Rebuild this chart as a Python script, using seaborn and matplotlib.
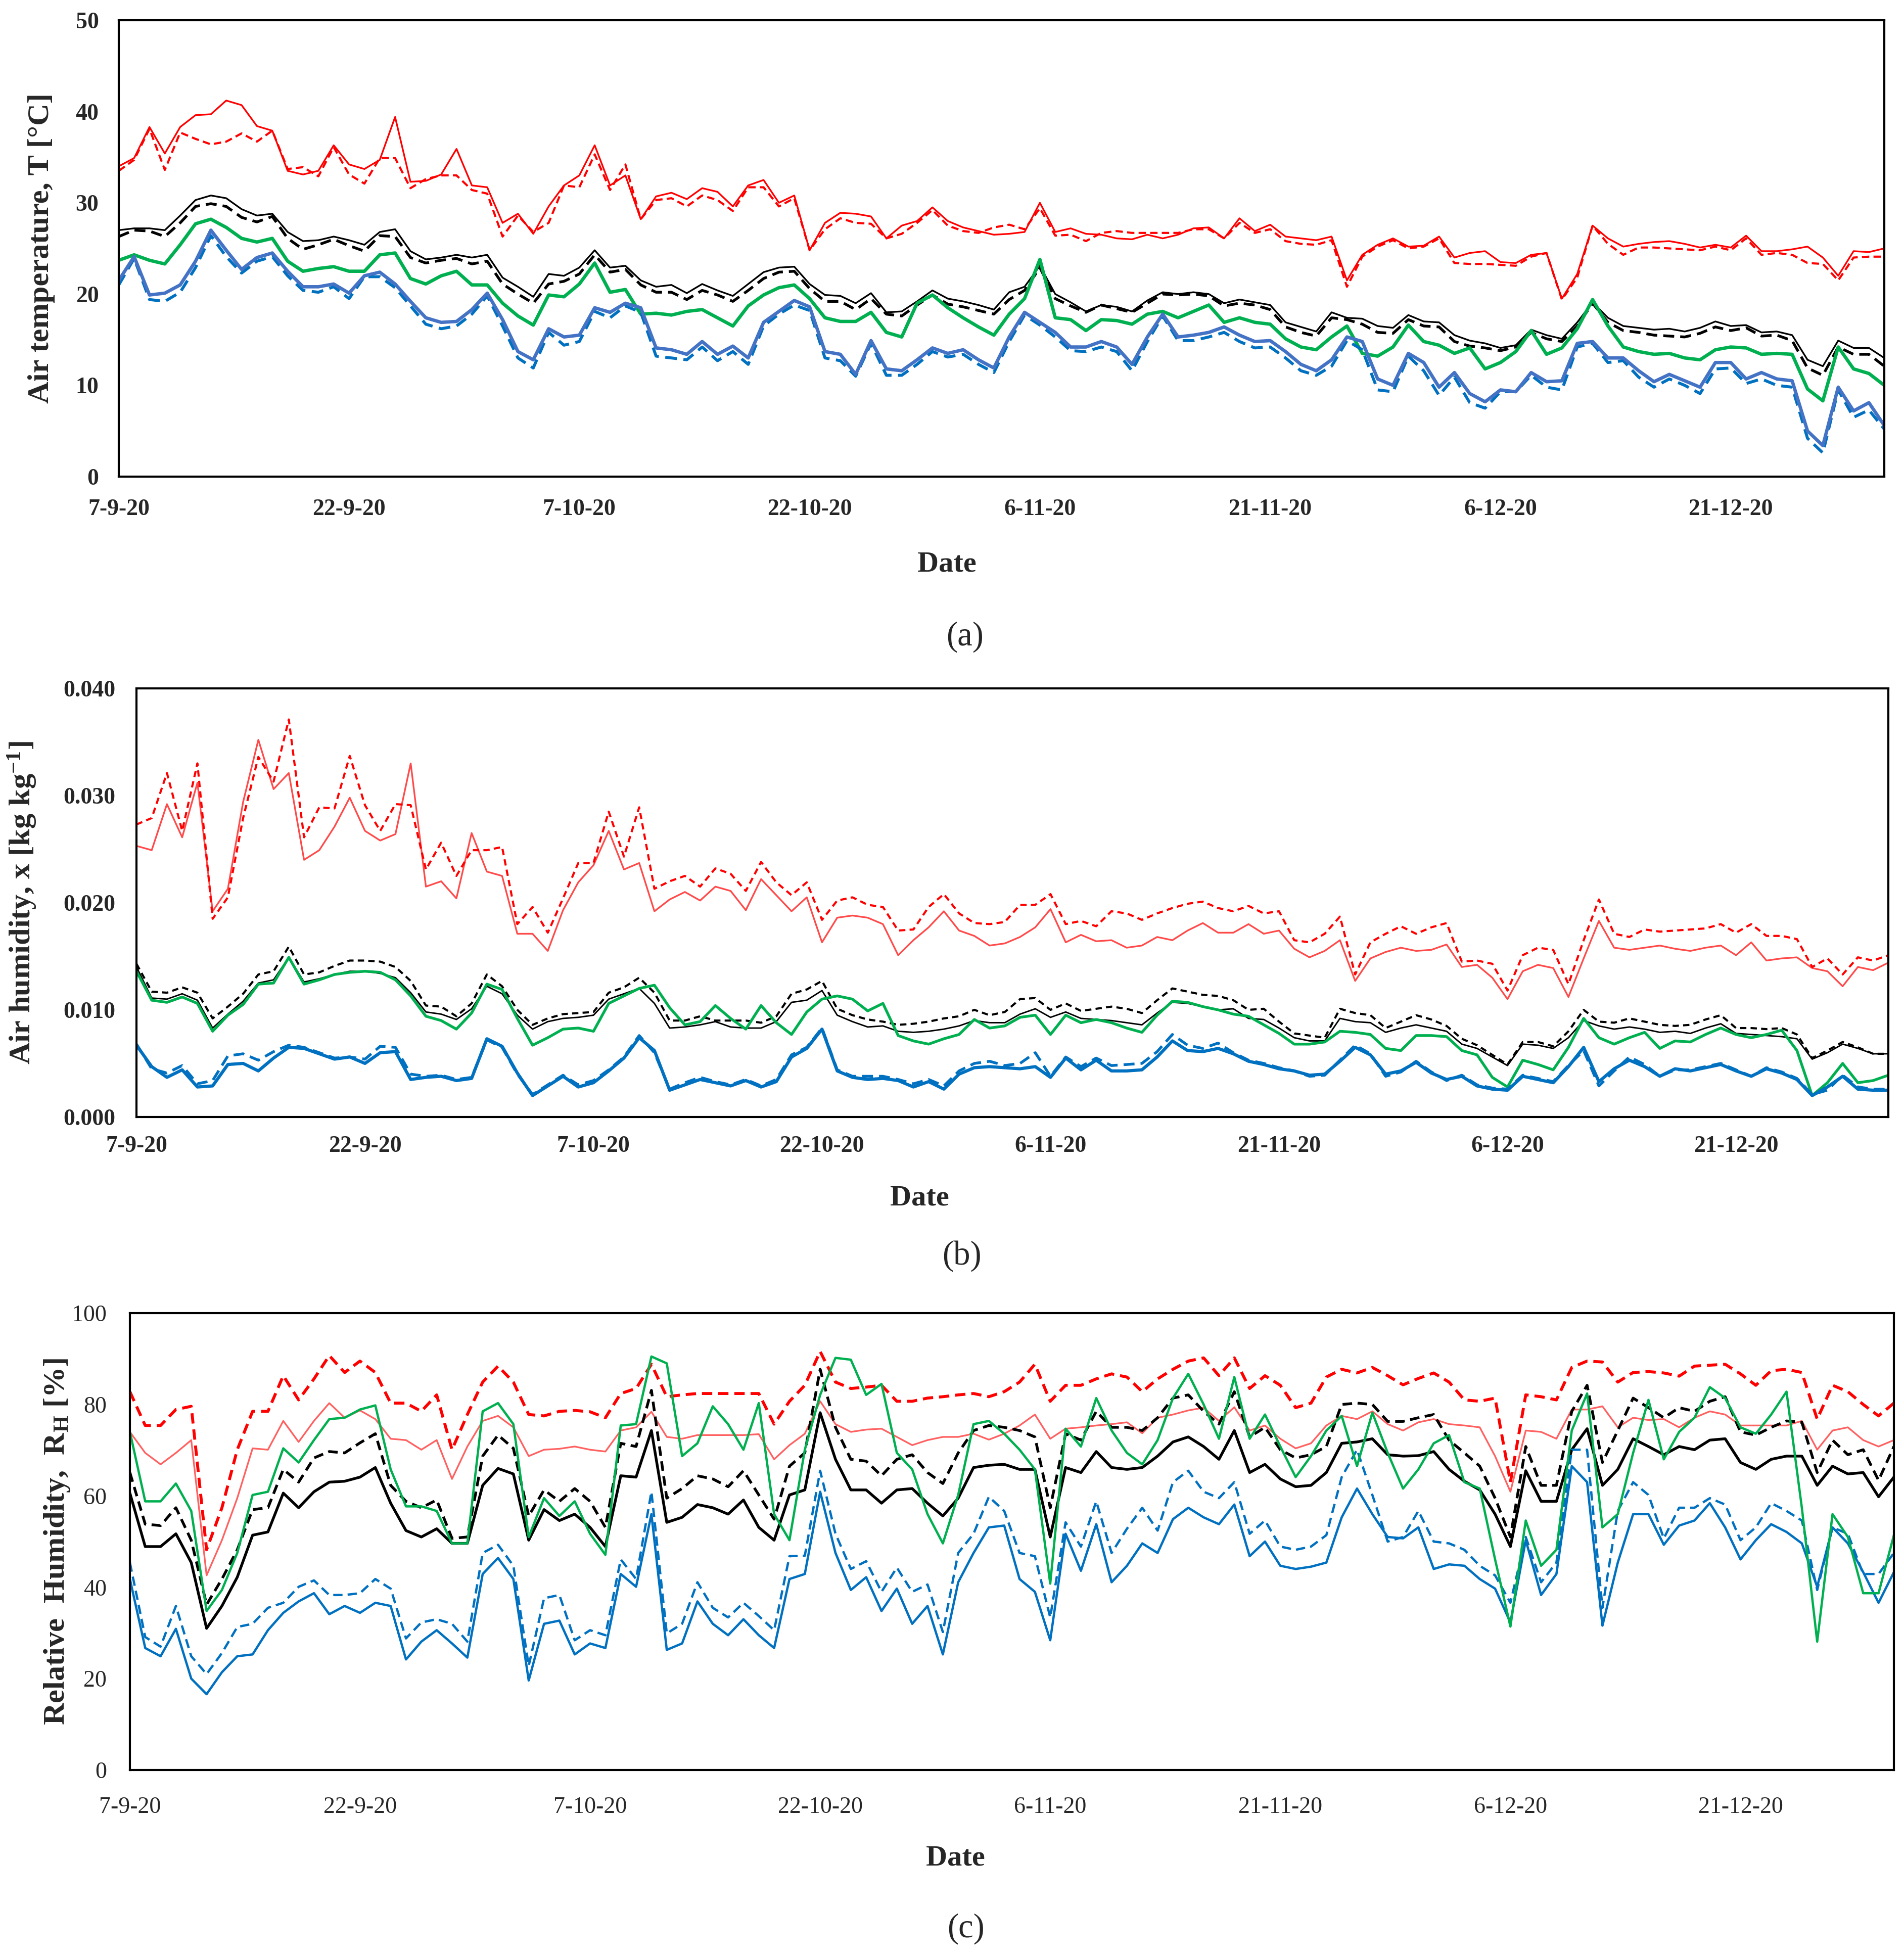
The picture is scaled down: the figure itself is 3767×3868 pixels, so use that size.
"""
Three stacked time series (Sep-Dec 2020): air temperature, air humidity
ratio and relative humidity, solid/dashed pairs per location.
Writes out.png
"""

import numpy as np
import pandas as pd
import matplotlib
matplotlib.use("Agg")
import matplotlib.pyplot as plt
import seaborn as sns

# ── Time axis ────────────────────────────────────────────────────────────────
DATES = pd.date_range("2020-09-07", periods=116, freq="D")
TICKS = pd.date_range("2020-09-07", periods=8, freq="15D")
TICK_LABELS = [f"{t.day}-{t.month}-{t.year % 100}" for t in TICKS]

# ── (a) Air temperature [°C] ─────────────────────────────────────────────────
T_RED_SOLID = [
    34.0, 34.9, 38.3, 35.4, 38.3, 39.6, 39.7, 41.2, 40.7, 38.4,
    37.9, 33.5, 33.1, 33.5, 36.3, 34.2, 33.7, 34.7, 39.4, 32.3,
    32.4, 33.1, 35.9, 31.9, 31.7, 27.8, 28.8, 26.6, 29.6, 31.9,
    33.0, 36.3, 31.9, 33.0, 28.2, 30.7, 31.1, 30.4, 31.6, 31.2,
    29.6, 31.9, 32.5, 30.0, 30.8, 24.8, 27.8, 28.9, 28.8, 28.5,
    26.1, 27.5, 28.0, 29.5, 28.0, 27.3, 26.9, 26.5, 26.6, 26.8,
    30.0, 26.8, 27.2, 26.6, 26.5, 26.1, 26.0, 26.5, 26.1, 26.5,
    27.2, 27.3, 26.1, 28.3, 26.9, 27.6, 26.3, 26.1, 25.9, 26.3,
    21.5, 24.3, 25.4, 26.1, 25.2, 25.3, 26.3, 24.0, 24.5, 24.7,
    23.5, 23.4, 24.3, 24.5, 19.5, 22.2, 27.5, 26.1, 25.2, 25.5,
    25.7, 25.8, 25.5, 25.1, 25.4, 25.1, 26.4, 24.7, 24.7, 24.9,
    25.2, 24.0, 22.0, 24.7, 24.6, 25.0,
]
T_RED_DASH = [
    33.5, 34.7, 38.1, 33.6, 37.7, 37.0, 36.4, 36.7, 37.6, 36.7,
    37.9, 33.7, 33.9, 32.9, 36.1, 33.1, 32.1, 34.9, 34.9, 31.6,
    32.6, 33.0, 33.0, 31.4, 31.0, 26.3, 28.6, 26.8, 27.8, 31.9,
    31.7, 35.3, 31.4, 34.2, 28.2, 30.3, 30.5, 29.6, 30.8, 30.3,
    29.1, 31.7, 31.7, 29.6, 30.5, 24.8, 27.1, 28.3, 27.8, 27.7,
    26.1, 26.6, 27.8, 29.2, 27.5, 26.9, 26.7, 27.3, 27.6, 27.1,
    29.4, 26.4, 26.5, 25.8, 26.7, 26.9, 26.7, 26.7, 26.7, 26.7,
    27.1, 27.1, 26.1, 27.8, 26.7, 27.1, 25.8, 25.5, 25.4, 25.9,
    20.8, 24.1, 25.2, 25.9, 25.0, 25.2, 26.1, 23.4, 23.3, 23.3,
    23.2, 23.1, 24.1, 24.5, 19.4, 21.8, 27.5, 25.5, 24.3, 25.1,
    25.1, 25.0, 24.9, 24.8, 25.2, 24.8, 26.1, 24.3, 24.5, 24.3,
    23.4, 23.3, 21.5, 24.0, 24.1, 24.1,
]
T_BLK_SOLID = [
    27.0, 27.2, 27.2, 27.0, 28.6, 30.3, 30.8, 30.5, 29.3, 28.6,
    28.8, 26.8, 25.8, 25.9, 26.3, 25.9, 25.4, 26.8, 27.1, 24.7,
    23.8, 24.0, 24.3, 24.0, 24.3, 21.8, 20.8, 19.7, 22.2, 22.0,
    22.9, 24.8, 22.9, 23.1, 21.5, 20.8, 21.0, 20.1, 21.1, 20.4,
    19.8, 21.1, 22.4, 22.9, 23.0, 21.1, 19.9, 19.8, 19.0, 20.1,
    18.0, 18.1, 19.2, 20.4, 19.5, 19.2, 18.8, 18.3, 20.2, 20.8,
    23.1, 20.0, 19.1, 18.1, 18.8, 18.6, 18.1, 19.3, 20.2, 20.0,
    20.2, 20.0, 19.0, 19.4, 19.1, 18.8, 16.9, 16.4, 15.9, 18.0,
    17.4, 17.3, 16.5, 16.3, 17.7, 17.0, 16.9, 15.5, 14.9, 14.6,
    14.1, 14.4, 16.1, 15.5, 15.1, 16.9, 19.1, 17.4, 16.5, 16.3,
    16.1, 16.2, 15.9, 16.3, 17.0, 16.5, 16.6, 15.8, 15.9, 15.5,
    12.8, 12.1, 14.9, 14.1, 14.1, 13.0,
]
T_BLK_DASH = [
    26.3, 27.0, 26.9, 26.3, 27.8, 29.6, 29.9, 29.6, 28.4, 27.9,
    28.5, 26.1, 24.9, 25.4, 26.0, 25.3, 24.7, 26.4, 26.3, 24.0,
    23.4, 23.7, 23.9, 23.3, 23.6, 21.1, 20.0, 19.0, 21.1, 21.4,
    22.2, 24.3, 22.4, 22.7, 21.0, 20.2, 20.2, 19.4, 20.4, 19.9,
    19.2, 20.4, 21.7, 22.4, 22.5, 20.6, 19.2, 19.2, 18.3, 19.5,
    17.8, 17.6, 18.8, 19.9, 18.9, 18.6, 18.2, 17.8, 19.4, 20.4,
    22.9, 19.5, 18.7, 18.0, 18.8, 18.4, 18.0, 19.0, 20.0, 19.9,
    20.0, 19.8, 18.7, 19.0, 18.8, 18.3, 16.4, 15.8, 15.4, 17.4,
    17.2, 16.7, 15.8, 15.7, 17.2, 16.5, 16.4, 14.8, 14.3, 14.1,
    13.8, 14.2, 15.8, 15.1, 14.8, 16.5, 19.0, 16.9, 16.0, 15.8,
    15.5, 15.4, 15.3, 15.7, 16.4, 16.0, 16.3, 15.4, 15.5, 14.9,
    11.9, 11.1, 14.2, 13.4, 13.4, 12.1,
]
T_GREEN = [
    23.7, 24.3, 23.7, 23.3, 25.4, 27.7, 28.2, 27.3, 26.1, 25.7,
    26.1, 23.6, 22.5, 22.8, 23.0, 22.5, 22.5, 24.3, 24.5, 21.7,
    21.1, 22.0, 22.5, 21.0, 21.0, 19.0, 17.6, 16.6, 19.9, 19.7,
    21.1, 23.4, 20.2, 20.5, 17.8, 17.9, 17.7, 18.1, 18.3, 17.4,
    16.5, 18.7, 19.9, 20.7, 21.0, 19.5, 17.4, 17.0, 17.0, 18.0,
    15.8, 15.3, 19.0, 19.9, 18.5, 17.4, 16.4, 15.5, 17.8, 19.5,
    23.8, 17.4, 17.2, 16.0, 17.2, 17.1, 16.7, 17.8, 18.1, 17.4,
    18.1, 18.8, 16.9, 17.4, 16.9, 16.7, 15.1, 14.2, 13.9, 15.3,
    16.5, 13.5, 13.2, 14.2, 16.6, 14.8, 14.4, 13.5, 14.1, 11.8,
    12.5, 13.7, 16.0, 13.4, 14.1, 16.2, 19.4, 16.5, 14.2, 13.7,
    13.4, 13.5, 13.0, 12.8, 13.9, 14.2, 14.1, 13.4, 13.5, 13.4,
    9.6, 8.3, 14.2, 11.8, 11.3, 10.0,
]
T_BLU_SOLID = [
    21.5, 24.1, 19.9, 20.1, 21.0, 23.6, 27.0, 24.8, 22.7, 24.0,
    24.5, 22.5, 20.8, 20.8, 21.1, 20.1, 22.0, 22.4, 21.1, 19.2,
    17.4, 16.9, 17.0, 18.3, 20.1, 17.2, 13.7, 12.8, 16.2, 15.3,
    15.5, 18.5, 18.0, 19.0, 18.5, 14.1, 13.9, 13.4, 14.8, 13.4,
    14.3, 13.0, 16.9, 18.1, 19.3, 18.6, 13.7, 13.4, 11.2, 14.9,
    11.8, 11.6, 12.8, 14.1, 13.5, 13.9, 12.8, 11.9, 15.3, 18.0,
    16.9, 15.8, 14.2, 14.2, 14.8, 14.2, 12.3, 15.3, 17.8, 15.3,
    15.5, 15.8, 16.4, 15.5, 14.8, 14.9, 13.7, 12.3, 11.6, 12.8,
    15.3, 14.8, 10.7, 10.0, 13.5, 12.5, 9.8, 11.4, 9.1, 8.2,
    9.5, 9.3, 11.4, 10.4, 10.5, 14.6, 14.8, 13.0, 13.0, 11.6,
    10.4, 11.2, 10.5, 9.8, 12.5, 12.5, 10.7, 11.4, 10.7, 10.5,
    5.0, 3.4, 9.8, 7.2, 8.1, 5.6,
]
T_BLU_DASH = [
    21.0, 23.9, 19.4, 19.2, 20.2, 22.9, 26.4, 24.1, 22.3, 23.6,
    24.1, 22.0, 20.4, 20.2, 20.8, 19.5, 21.9, 21.9, 20.7, 18.7,
    16.7, 16.2, 16.5, 17.8, 19.8, 16.5, 13.0, 11.9, 15.8, 14.4,
    14.8, 18.1, 17.4, 18.7, 18.0, 13.2, 13.0, 12.8, 14.2, 12.7,
    13.7, 12.3, 16.5, 17.8, 18.8, 18.2, 13.0, 12.7, 11.0, 14.6,
    11.1, 11.1, 12.3, 13.7, 13.1, 13.4, 12.3, 11.4, 14.8, 17.7,
    16.6, 15.3, 13.8, 13.7, 14.2, 13.7, 11.6, 14.8, 17.6, 14.9,
    14.9, 15.3, 15.8, 14.8, 14.1, 14.2, 13.0, 11.6, 11.1, 12.1,
    14.9, 13.9, 9.5, 9.3, 13.2, 11.6, 8.9, 10.9, 8.1, 7.5,
    9.3, 9.3, 11.1, 9.8, 9.5, 14.2, 14.6, 12.5, 12.7, 10.9,
    9.8, 10.7, 10.0, 9.1, 11.8, 11.9, 10.2, 10.7, 10.0, 9.8,
    4.2, 2.6, 9.5, 6.5, 7.3, 5.2,
]

# ── (b) Air humidity ratio, in g/kg (converted to kg/kg when drawn) ──────────
X_RED_SOLID = [
    25.3, 24.9, 29.2, 26.1, 31.2, 19.2, 21.3, 29.4, 35.2, 30.6,
    32.1, 24.0, 24.9, 27.1, 29.8, 26.7, 25.8, 26.4, 33.0, 21.5,
    22.0, 20.4, 26.5, 22.9, 22.5, 17.1, 17.1, 15.5, 19.3, 21.9,
    23.5, 26.7, 23.1, 23.7, 19.2, 20.3, 21.0, 20.2, 21.5, 21.1,
    19.3, 22.2, 20.7, 19.2, 20.5, 16.3, 18.6, 18.8, 18.6, 18.0,
    15.1, 16.5, 17.7, 19.2, 17.4, 16.9, 16.0, 16.2, 16.8, 17.7,
    19.4, 16.3, 17.0, 16.4, 16.5, 15.8, 16.0, 16.8, 16.5, 17.4,
    18.1, 17.2, 17.2, 18.0, 17.1, 17.4, 15.7, 14.9, 15.5, 16.5,
    12.7, 14.8, 15.4, 15.8, 15.5, 15.6, 16.1, 14.0, 14.2, 13.0,
    11.0, 13.6, 14.2, 13.9, 11.2, 14.8, 18.3, 15.8, 15.6, 15.8,
    16.0, 15.7, 15.5, 15.8, 16.0, 15.1, 16.3, 14.6, 14.8, 14.9,
    13.9, 13.6, 12.2, 14.0, 13.7, 14.4,
]
X_RED_DASH = [
    27.3, 27.9, 32.1, 26.7, 33.0, 18.5, 20.5, 27.9, 33.6, 31.3,
    37.1, 26.1, 28.9, 28.8, 33.7, 29.1, 26.7, 29.2, 29.1, 23.1,
    25.6, 22.5, 24.9, 24.9, 25.2, 18.0, 19.6, 17.2, 20.4, 23.7,
    23.7, 28.5, 24.3, 28.9, 21.3, 22.0, 22.5, 21.5, 23.2, 22.7,
    21.1, 23.8, 21.9, 20.7, 21.9, 18.4, 20.2, 20.5, 19.8, 19.6,
    17.4, 17.5, 19.6, 20.8, 19.0, 18.1, 18.0, 18.2, 19.8, 19.8,
    20.8, 18.0, 18.3, 17.8, 19.2, 19.0, 18.4, 19.0, 19.5, 19.9,
    20.1, 19.5, 19.2, 19.7, 19.0, 19.2, 16.5, 16.3, 17.1, 18.7,
    13.3, 16.3, 17.1, 17.8, 17.1, 17.7, 18.1, 14.5, 14.6, 14.3,
    11.8, 15.1, 15.8, 15.6, 12.4, 16.5, 20.3, 17.1, 16.8, 17.5,
    17.3, 17.4, 17.5, 17.6, 18.0, 17.2, 18.0, 16.9, 16.9, 16.6,
    14.0, 14.8, 13.3, 14.9, 14.6, 15.1,
]
X_BLK_SOLID = [
    14.0, 11.1, 11.0, 11.5, 10.9, 8.3, 9.6, 10.8, 12.5, 12.8,
    14.9, 12.6, 12.9, 13.3, 13.6, 13.6, 13.4, 13.0, 11.6, 9.8,
    9.6, 9.1, 10.1, 12.2, 11.5, 9.5, 8.2, 8.9, 9.2, 9.3,
    9.5, 11.0, 11.5, 12.0, 10.6, 8.3, 8.4, 8.6, 8.9, 8.4,
    8.3, 8.3, 8.9, 10.7, 10.9, 11.8, 9.5, 8.9, 8.4, 8.5,
    8.0, 7.9, 8.0, 8.2, 8.5, 9.0, 8.8, 8.8, 9.6, 10.1,
    9.3, 9.8, 9.2, 9.1, 9.0, 8.8, 8.6, 9.7, 10.7, 10.6,
    10.3, 10.0, 10.1, 9.2, 9.1, 8.3, 7.4, 7.1, 7.1, 9.2,
    8.9, 8.8, 7.9, 8.3, 8.6, 8.3, 8.0, 6.8, 6.4, 5.6,
    4.8, 6.8, 6.7, 6.4, 7.4, 9.0, 8.5, 8.2, 8.4, 8.2,
    7.9, 8.0, 7.8, 8.3, 8.7, 7.8, 7.7, 7.6, 7.5, 7.3,
    5.4, 6.0, 6.8, 6.4, 5.9, 5.9,
]
X_BLK_DASH = [
    14.3, 11.7, 11.6, 12.1, 11.6, 9.2, 10.3, 11.5, 13.3, 13.6,
    15.9, 13.3, 13.5, 14.1, 14.6, 14.6, 14.5, 14.0, 12.7, 10.4,
    10.3, 9.4, 10.6, 13.3, 12.2, 10.0, 8.6, 9.2, 9.6, 9.7,
    9.8, 11.6, 12.1, 13.0, 11.6, 9.0, 9.0, 9.4, 9.0, 9.0,
    9.0, 8.8, 9.4, 11.5, 11.9, 12.7, 10.1, 9.5, 9.1, 8.9,
    8.6, 8.7, 8.9, 9.2, 9.4, 10.0, 9.5, 9.8, 11.0, 11.1,
    10.0, 10.6, 9.9, 10.1, 10.3, 10.1, 9.7, 10.9, 12.0, 11.7,
    11.4, 11.3, 10.9, 10.0, 10.1, 8.9, 7.8, 7.6, 7.4, 10.1,
    9.7, 9.5, 8.3, 8.9, 9.5, 9.1, 8.5, 7.3, 6.7, 5.8,
    4.9, 7.0, 7.0, 6.6, 8.0, 10.0, 8.9, 8.8, 9.2, 8.9,
    8.6, 8.5, 8.6, 9.1, 9.5, 8.3, 8.3, 8.2, 8.3, 7.7,
    5.5, 6.2, 7.0, 6.5, 5.9, 5.9,
]
X_GREEN = [
    13.6, 10.9, 10.7, 11.2, 10.6, 8.0, 9.5, 10.5, 12.4, 12.5,
    14.9, 12.4, 12.8, 13.3, 13.5, 13.6, 13.5, 12.8, 11.3, 9.4,
    9.0, 8.2, 9.7, 12.4, 11.9, 9.2, 6.7, 7.4, 8.2, 8.3,
    8.0, 10.6, 11.3, 12.0, 12.3, 10.2, 8.6, 8.9, 10.4, 9.2,
    8.2, 10.4, 8.8, 7.7, 9.8, 11.0, 11.3, 11.0, 9.9, 10.6,
    7.6, 7.1, 6.8, 7.3, 7.7, 9.1, 8.3, 8.5, 9.3, 9.5,
    7.7, 9.5, 8.8, 9.1, 8.8, 8.3, 7.9, 9.5, 10.8, 10.7,
    10.3, 10.0, 9.6, 9.4, 8.6, 7.8, 6.8, 6.8, 7.0, 8.0,
    7.9, 7.7, 6.4, 6.2, 7.6, 7.6, 7.5, 6.2, 5.8, 3.7,
    2.8, 5.3, 4.9, 4.4, 6.5, 9.2, 7.4, 6.8, 7.4, 7.9,
    6.4, 7.1, 7.0, 7.7, 8.3, 7.7, 7.4, 7.7, 8.1, 6.2,
    2.0, 3.2, 5.0, 3.2, 3.4, 3.9,
]
X_BLU_SOLID = [
    6.7, 4.7, 3.7, 4.4, 2.8, 2.9, 4.9, 5.0, 4.3, 5.5,
    6.5, 6.4, 5.9, 5.4, 5.6, 5.0, 6.0, 6.1, 3.5, 3.7,
    3.8, 3.4, 3.6, 7.3, 6.6, 4.1, 2.0, 2.9, 3.8, 2.8,
    3.2, 4.3, 5.5, 7.4, 6.2, 2.5, 3.0, 3.5, 3.2, 2.9,
    3.4, 2.8, 3.3, 5.6, 6.4, 8.2, 4.3, 3.7, 3.5, 3.6,
    3.4, 2.8, 3.3, 2.6, 4.0, 4.6, 4.7, 4.6, 4.5, 4.7,
    3.7, 5.5, 4.4, 5.3, 4.3, 4.3, 4.4, 5.6, 7.1, 6.2,
    6.1, 6.4, 5.9, 5.2, 4.9, 4.5, 4.3, 3.9, 4.0, 5.2,
    6.5, 5.8, 4.0, 4.3, 5.1, 4.1, 3.5, 3.8, 2.9, 2.6,
    2.5, 3.8, 3.5, 3.2, 4.7, 6.5, 3.3, 4.5, 5.3, 4.7,
    3.8, 4.5, 4.3, 4.6, 4.9, 4.3, 3.8, 4.5, 4.1, 3.5,
    2.0, 2.8, 3.8, 2.6, 2.5, 2.5,
]
X_BLU_DASH = [
    6.8, 4.5, 4.1, 4.8, 3.1, 3.4, 5.7, 5.9, 5.3, 6.1,
    6.7, 6.5, 6.0, 5.5, 5.6, 5.4, 6.6, 6.5, 4.0, 3.8,
    3.9, 3.5, 3.7, 7.2, 6.5, 4.0, 2.1, 3.0, 3.9, 3.0,
    3.4, 4.4, 5.6, 7.6, 6.0, 2.6, 3.2, 3.7, 3.3, 3.0,
    3.5, 2.9, 3.5, 5.8, 6.5, 8.3, 4.4, 3.8, 3.8, 3.8,
    3.5, 3.1, 3.5, 2.9, 4.3, 5.0, 5.2, 4.8, 5.0, 6.0,
    3.8, 5.6, 4.7, 5.5, 4.8, 4.9, 5.0, 6.1, 7.7, 6.7,
    6.4, 6.9, 6.0, 5.3, 5.0, 4.6, 4.3, 3.8, 3.9, 5.3,
    6.7, 5.9, 3.8, 4.2, 5.2, 4.2, 3.4, 3.9, 3.0, 2.7,
    2.6, 3.9, 3.6, 3.3, 4.8, 6.2, 2.9, 4.3, 5.6, 4.9,
    3.8, 4.4, 4.4, 4.7, 5.0, 4.4, 3.8, 4.6, 4.2, 3.6,
    2.1, 2.5, 3.9, 2.8, 2.6, 2.6,
]

# ── (c) Relative humidity [%] ────────────────────────────────────────────────
RH_RED_SOLID = [
    74.0, 69.4, 66.9, 69.4, 72.2, 42.6, 50.3, 59.5, 70.4, 70.1,
    76.4, 71.8, 76.4, 80.3, 77.1, 78.7, 76.8, 72.5, 72.2, 70.1,
    72.2, 63.7, 70.8, 76.4, 77.5, 75.0, 68.7, 70.1, 70.3, 70.8,
    70.1, 69.7, 74.3, 75.0, 78.4, 72.9, 72.5, 73.3, 73.3, 73.3,
    73.3, 73.5, 68.0, 71.1, 73.6, 80.7, 75.7, 74.0, 74.5, 74.7,
    72.9, 71.1, 72.2, 72.9, 72.9, 73.6, 72.3, 73.6, 75.4, 77.8,
    72.5, 74.7, 75.0, 75.4, 75.7, 76.1, 73.7, 77.1, 77.8, 78.7,
    79.3, 76.4, 79.4, 74.3, 75.4, 72.5, 70.4, 71.5, 75.4, 77.5,
    76.8, 78.5, 75.7, 74.3, 76.1, 76.8, 75.7, 75.4, 75.0, 68.7,
    60.9, 74.3, 74.0, 72.5, 78.9, 78.9, 79.6, 75.0, 77.1, 76.6,
    76.8, 75.0, 77.1, 78.5, 77.8, 75.4, 75.4, 75.4, 75.4, 76.4,
    70.1, 74.3, 75.0, 72.2, 70.8, 72.2,
]
RH_RED_DASH = [
    82.8, 75.4, 75.4, 78.9, 79.6, 48.2, 57.4, 70.1, 78.5, 78.5,
    86.3, 81.0, 85.6, 90.7, 87.0, 89.5, 87.0, 80.3, 80.3, 78.5,
    82.1, 70.1, 77.8, 84.9, 88.4, 84.9, 77.8, 77.5, 78.5, 78.7,
    78.4, 77.1, 82.4, 83.5, 88.8, 81.7, 82.1, 82.4, 82.4, 82.4,
    82.4, 82.4, 75.7, 80.7, 84.2, 91.6, 84.9, 83.5, 83.8, 84.2,
    80.7, 80.7, 81.4, 81.7, 82.1, 82.4, 81.7, 82.8, 84.9, 88.8,
    80.7, 84.2, 84.2, 85.6, 86.7, 86.0, 82.8, 85.6, 87.7, 89.5,
    90.2, 86.3, 90.2, 83.5, 86.3, 84.2, 79.3, 80.3, 86.0, 87.7,
    86.9, 88.1, 86.3, 84.3, 85.7, 86.9, 84.9, 81.0, 80.7, 81.4,
    63.0, 82.1, 81.7, 81.0, 88.1, 89.5, 89.3, 84.9, 87.0, 87.2,
    86.9, 86.2, 88.4, 88.6, 88.8, 86.7, 84.2, 87.4, 87.7, 87.0,
    76.8, 84.2, 82.8, 80.0, 77.5, 80.3,
]
RH_BLK_SOLID = [
    60.6, 48.9, 48.9, 51.7, 45.4, 31.0, 35.9, 42.2, 51.4, 52.1,
    60.6, 57.4, 60.9, 63.0, 63.2, 64.1, 66.2, 58.4, 52.4, 51.0,
    52.8, 49.6, 49.6, 62.3, 66.0, 64.8, 50.3, 57.0, 54.6, 56.0,
    53.1, 48.9, 64.4, 64.1, 74.3, 54.2, 55.3, 58.1, 57.4, 56.0,
    59.1, 53.1, 50.3, 60.2, 61.3, 78.2, 68.0, 61.3, 61.3, 58.4,
    61.3, 61.6, 58.4, 55.6, 59.5, 66.2, 66.7, 66.9, 65.8, 65.8,
    51.0, 66.2, 65.1, 69.7, 66.2, 65.8, 66.2, 68.7, 71.8, 72.9,
    70.8, 68.0, 74.3, 65.1, 66.9, 63.7, 62.0, 62.3, 65.1, 71.5,
    71.8, 72.5, 69.0, 68.7, 68.8, 69.7, 65.8, 63.2, 61.3, 56.0,
    48.9, 65.5, 58.8, 58.8, 70.1, 74.7, 62.3, 65.8, 72.5, 70.8,
    69.0, 70.8, 70.1, 72.2, 72.5, 67.3, 65.8, 68.0, 68.7, 68.7,
    62.3, 66.5, 64.8, 65.1, 59.8, 64.1,
]
RH_BLK_DASH = [
    65.1, 53.8, 53.5, 57.4, 50.3, 36.2, 41.8, 48.2, 57.0, 57.4,
    65.8, 63.0, 68.3, 69.7, 69.4, 71.6, 73.6, 62.3, 58.8, 57.4,
    59.1, 50.7, 51.0, 68.7, 73.3, 70.4, 55.6, 61.3, 58.8, 61.6,
    58.8, 53.1, 71.5, 70.8, 83.1, 59.5, 61.6, 64.4, 63.7, 62.0,
    65.5, 60.2, 54.9, 66.5, 69.4, 87.7, 75.0, 68.0, 67.6, 64.4,
    68.0, 69.0, 65.1, 62.7, 69.4, 74.3, 75.4, 75.0, 74.3, 72.9,
    57.4, 73.6, 72.2, 78.5, 75.0, 75.0, 74.3, 77.1, 81.4, 82.1,
    78.5, 75.7, 82.8, 72.9, 75.0, 70.1, 68.3, 69.0, 70.8, 80.0,
    80.3, 80.0, 76.3, 76.3, 77.1, 77.8, 72.2, 69.4, 66.5, 59.5,
    51.0, 70.8, 62.3, 62.3, 78.5, 84.2, 67.3, 74.3, 81.4, 79.3,
    77.1, 79.3, 78.5, 80.7, 81.7, 74.0, 73.3, 75.0, 76.4, 76.1,
    65.1, 72.2, 69.0, 70.1, 63.4, 70.8,
]
RH_GREEN = [
    74.0, 58.8, 58.8, 62.7, 56.7, 34.8, 39.4, 47.5, 60.2, 60.9,
    70.4, 67.3, 72.2, 76.8, 77.1, 78.9, 79.8, 65.8, 57.7, 57.7,
    56.7, 49.6, 49.6, 78.5, 80.3, 75.7, 51.0, 59.5, 55.6, 58.8,
    51.7, 47.1, 75.4, 75.7, 90.5, 89.0, 68.7, 71.5, 79.6, 75.7,
    70.1, 80.3, 56.0, 50.3, 70.1, 82.1, 90.2, 89.8, 82.1, 84.5,
    69.4, 65.8, 56.0, 49.6, 60.2, 75.7, 76.4, 73.6, 70.1, 65.8,
    40.8, 74.7, 70.8, 81.4, 74.3, 69.4, 66.9, 72.2, 81.4, 86.7,
    80.0, 72.5, 86.0, 72.5, 77.8, 70.8, 64.1, 68.7, 74.3, 77.5,
    66.5, 78.2, 69.4, 61.6, 65.8, 71.5, 73.3, 63.0, 61.6, 46.1,
    31.4, 54.6, 44.7, 48.2, 74.3, 82.4, 53.1, 56.0, 69.4, 81.0,
    68.0, 74.0, 77.1, 83.8, 81.4, 75.0, 73.6, 77.8, 82.8, 57.4,
    28.1, 56.0, 51.0, 38.7, 38.7, 51.4,
]
RH_BLU_SOLID = [
    41.8, 26.7, 24.9, 30.9, 20.0, 16.6, 21.4, 24.9, 25.3, 30.6,
    34.4, 36.9, 38.7, 34.1, 35.9, 34.4, 36.6, 35.9, 24.2, 28.1,
    30.6, 27.7, 24.6, 42.9, 46.4, 41.8, 19.6, 32.0, 32.7, 25.3,
    27.7, 26.7, 42.9, 40.1, 56.0, 26.3, 27.7, 36.9, 32.0, 29.5,
    33.0, 29.5, 26.7, 41.8, 42.9, 60.9, 47.5, 39.4, 42.2, 34.8,
    39.7, 32.0, 35.9, 25.3, 41.1, 47.5, 53.1, 53.5, 41.8, 39.0,
    28.4, 51.7, 43.6, 53.8, 41.1, 44.7, 49.6, 47.5, 54.9, 57.4,
    55.3, 53.8, 58.1, 46.8, 50.0, 44.7, 44.0, 44.5, 45.4, 55.3,
    61.6, 56.0, 51.0, 50.7, 53.1, 44.0, 45.0, 44.7, 41.8, 39.7,
    32.3, 50.3, 38.3, 42.9, 66.5, 63.0, 31.6, 45.4, 56.0, 56.0,
    49.3, 53.5, 54.6, 58.4, 53.1, 46.1, 50.3, 53.8, 52.1, 49.6,
    40.1, 53.1, 49.6, 43.3, 36.6, 43.3,
]
RH_BLU_DASH = [
    45.4, 29.1, 27.0, 35.9, 24.9, 21.0, 25.6, 31.3, 32.0, 35.5,
    36.6, 40.1, 41.5, 38.3, 38.3, 38.7, 41.8, 39.7, 28.8, 32.3,
    33.0, 32.0, 28.1, 47.5, 49.3, 44.7, 22.8, 37.6, 38.3, 28.4,
    30.6, 29.5, 46.1, 41.8, 60.9, 29.9, 32.0, 41.1, 35.5, 33.4,
    36.6, 33.7, 30.6, 46.8, 46.9, 65.5, 51.7, 44.0, 45.7, 39.0,
    44.3, 39.0, 40.6, 30.2, 47.5, 51.7, 59.8, 56.7, 47.5, 46.8,
    33.4, 54.2, 48.9, 58.8, 47.5, 52.8, 57.4, 52.4, 63.0, 65.5,
    60.9, 59.5, 63.0, 51.7, 54.6, 48.9, 48.2, 48.9, 51.4, 64.1,
    70.1, 60.2, 50.0, 51.0, 56.7, 50.0, 49.6, 48.2, 44.7, 42.6,
    36.6, 51.0, 41.1, 45.4, 70.1, 70.1, 35.5, 56.7, 63.0, 60.2,
    50.7, 57.4, 57.4, 59.5, 58.1, 50.3, 53.1, 58.4, 56.7, 54.6,
    39.4, 53.1, 51.7, 42.9, 42.9, 47.5,
]

RED, LIGHT_RED, GREEN = "#FF0000", "#FF4A4A", "#00B050"
BLUE_A, BLUE = "#4472C4", "#0070C0"

sns.set_theme(style="white")
plt.rcParams.update({
    "font.family": ["Liberation Serif", "DejaVu Serif"],
    "mathtext.fontset": "custom",
    "mathtext.rm": "Liberation Serif",
    "mathtext.it": "Liberation Serif:italic",
    "mathtext.bf": "Liberation Serif:bold",
    "axes.linewidth": 1.0,
    "axes.edgecolor": "black",
    "lines.solid_joinstyle": "round",
    "lines.dash_joinstyle": "round",
})

fig = plt.figure(figsize=(3767 / 300, 3868 / 300), dpi=300)
ax_a = fig.add_axes([0.06238, 0.75620, 0.92726, 0.23346])
ax_b = fig.add_axes([0.07168, 0.42865, 0.92010, 0.21923])
ax_c = fig.add_axes([0.06822, 0.09462, 0.92647, 0.23372])


def line(ax, values, color, lw, dash=None, scale=1.0):
    y = np.asarray(values, dtype=float) * scale
    kws = {} if dash is None else {"linestyle": (0, dash)}
    sns.lineplot(x=DATES, y=y, ax=ax, color=color, linewidth=lw,
                 estimator=None, errorbar=None, **kws)


def dress(ax, ylim, yticks, ylabels, ylabel, label_x, bold_ticks, xpad, ypad):
    weight = "bold" if bold_ticks else "normal"
    ax.set_xlim(DATES[0], DATES[-1])
    ax.set_ylim(*ylim)
    ax.set_xticks(TICKS)
    ax.set_xticklabels(TICK_LABELS, fontsize=11, fontweight=weight)
    ax.set_yticks(yticks)
    ax.set_yticklabels(ylabels, fontsize=11, fontweight=weight)
    ax.tick_params(axis="x", length=0, pad=xpad)
    ax.tick_params(axis="y", length=0, pad=ypad)
    for s in ax.spines.values():
        s.set_visible(True)
        s.set_color("black")
        s.set_linewidth(1.0)
    ax.set_ylabel(ylabel, fontsize=14.5, fontweight="bold")
    ax.yaxis.set_label_coords(label_x, 0.5)
    ax.set_xlabel("Date", fontsize=14, fontweight="bold")
    ax.grid(False)


# (a)
line(ax_a, T_RED_SOLID, RED, 0.8)
line(ax_a, T_RED_DASH, RED, 1.0, (3.5, 2.0))
line(ax_a, T_BLK_SOLID, "black", 0.8)
line(ax_a, T_BLK_DASH, "black", 1.3, (4.0, 2.2))
line(ax_a, T_GREEN, GREEN, 1.6)
line(ax_a, T_BLU_DASH, BLUE, 1.4, (4.0, 2.2))
line(ax_a, T_BLU_SOLID, BLUE_A, 1.6)
dress(ax_a, (0, 50), range(0, 51, 10), [str(v) for v in range(0, 51, 10)],
      "Air temperature, T [°C]", -0.036, True, 10.5, 9.5)
ax_a.xaxis.set_label_coords(0.469, -0.163)

# (b)
line(ax_b, X_RED_SOLID, LIGHT_RED, 0.8, scale=1e-3)
line(ax_b, X_RED_DASH, RED, 1.0, (3.0, 2.0), scale=1e-3)
line(ax_b, X_BLK_SOLID, "black", 0.7, scale=1e-3)
line(ax_b, X_BLK_DASH, "black", 1.0, (3.0, 2.0), scale=1e-3)
line(ax_b, X_GREEN, GREEN, 1.3, scale=1e-3)
line(ax_b, X_BLU_DASH, BLUE, 1.3, (4.0, 2.2), scale=1e-3)
line(ax_b, X_BLU_SOLID, BLUE, 1.5, scale=1e-3)
xb = [0.0, 0.01, 0.02, 0.03, 0.04]
dress(ax_b, (0, 0.04), xb, [f"{v:.3f}" for v in xb],
      r"Air humidity, x [kg kg$^{\mathbf{-1}}$]", -0.056, True, 9.0, 10.0)
ax_b.xaxis.set_label_coords(0.447, -0.159)

# (c)
line(ax_c, RH_RED_SOLID, "#FF6060", 0.8)
line(ax_c, RH_RED_DASH, RED, 1.4, (3.5, 2.0))
line(ax_c, RH_BLK_SOLID, "black", 1.3)
line(ax_c, RH_BLK_DASH, "black", 1.3, (3.5, 2.0))
line(ax_c, RH_BLU_SOLID, BLUE, 1.1)
line(ax_c, RH_BLU_DASH, BLUE, 1.1, (4.0, 2.2))
line(ax_c, RH_GREEN, GREEN, 1.1)
dress(ax_c, (0, 100), range(0, 101, 20), [str(v) for v in range(0, 101, 20)],
      r"Relative  Humidity,  R$_{\mathbf{H}}$ [%]", -0.033, False, 12.5, 11.0)
ax_c.xaxis.set_label_coords(0.468, -0.164)

fig.text(0.5068, 0.6742, "(a)", fontsize=16, ha="center", va="center")
fig.text(0.5052, 0.3576, "(b)", fontsize=16, ha="center", va="center")
fig.text(0.5073, 0.0134, "(c)", fontsize=16, ha="center", va="center")

fig.savefig("out.png", dpi=300)
plt.close(fig)
